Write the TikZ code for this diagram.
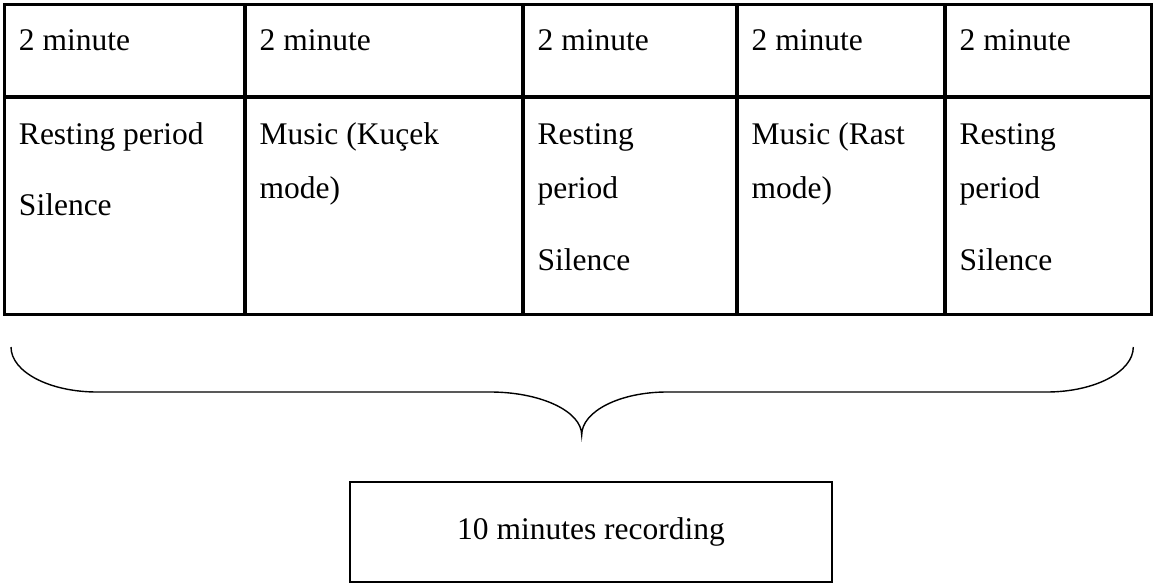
\documentclass[tikz,border=0pt]{standalone}
\usepackage{fontspec}
\setmainfont{Liberation Serif}
\newcommand\cellbox[1]{\parbox[t]{220pt}{\fontsize{31.5}{53.3}\selectfont\raggedright #1}}
\tikzset{
  grid line/.style={line width=3.4pt, line cap=rect},
  cell/.style={anchor=base west, inner sep=0pt},
  recbox/.style={draw, line width=2pt, minimum width=482pt, minimum height=99.4pt, inner sep=0pt, font=\fontsize{31.5}{36}\selectfont},
  bracel/.style={line width=1.4pt}
}
\begin{document}
\begin{tikzpicture}[x=1pt,y=-1pt]
\useasboundingbox (0,0) rectangle (1154,583);
% table grid
\draw[grid line] (4.5,4.3) rectangle (1151.5,314.3);
\draw[grid line] (4.5,97) -- (1151.5,97);
\foreach \cx in {245,523,737,945} \draw[grid line] (\cx,4.3) -- (\cx,314.3);
% header row
\node[cell] (h1) at (18.8,50.7)  {\cellbox{2 minute}};
\node[cell] (h2) at (259.5,50.7) {\cellbox{2 minute}};
\node[cell] (h3) at (537.5,50.7) {\cellbox{2 minute}};
\node[cell] (h4) at (751.5,50.7) {\cellbox{2 minute}};
\node[cell] (h5) at (959.5,50.7) {\cellbox{2 minute}};
% body row
\node[cell] (b1) at (18.8,145)  {\cellbox{Resting period\\[17pt]Silence}};
\node[cell] (b2) at (259.5,145) {\cellbox{Music (Kuçek\\mode)}};
\node[cell] (b3) at (537.5,145) {\cellbox{Resting\\period\\[19pt]Silence}};
\node[cell] (b4) at (751.5,145) {\cellbox{Music (Rast\\mode)}};
\node[cell] (b5) at (959.5,145) {\cellbox{Resting\\period\\[19pt]Silence}};
% brace
\draw[bracel] (11,347) .. controls (11,371.9) and (49.5,392) .. (97,392)
  -- (490,392) .. controls (540.8,392) and (581.7,411.3) .. (581.7,435)
  .. controls (581.7,411.3) and (619.9,392) .. (667,392)
  -- (1046.7,392) .. controls (1094.5,392) and (1133.3,371.9) .. (1133.3,347);
% result box
\node[recbox] (rec) at (591,532) {10 minutes recording};
\end{tikzpicture}
\end{document}
